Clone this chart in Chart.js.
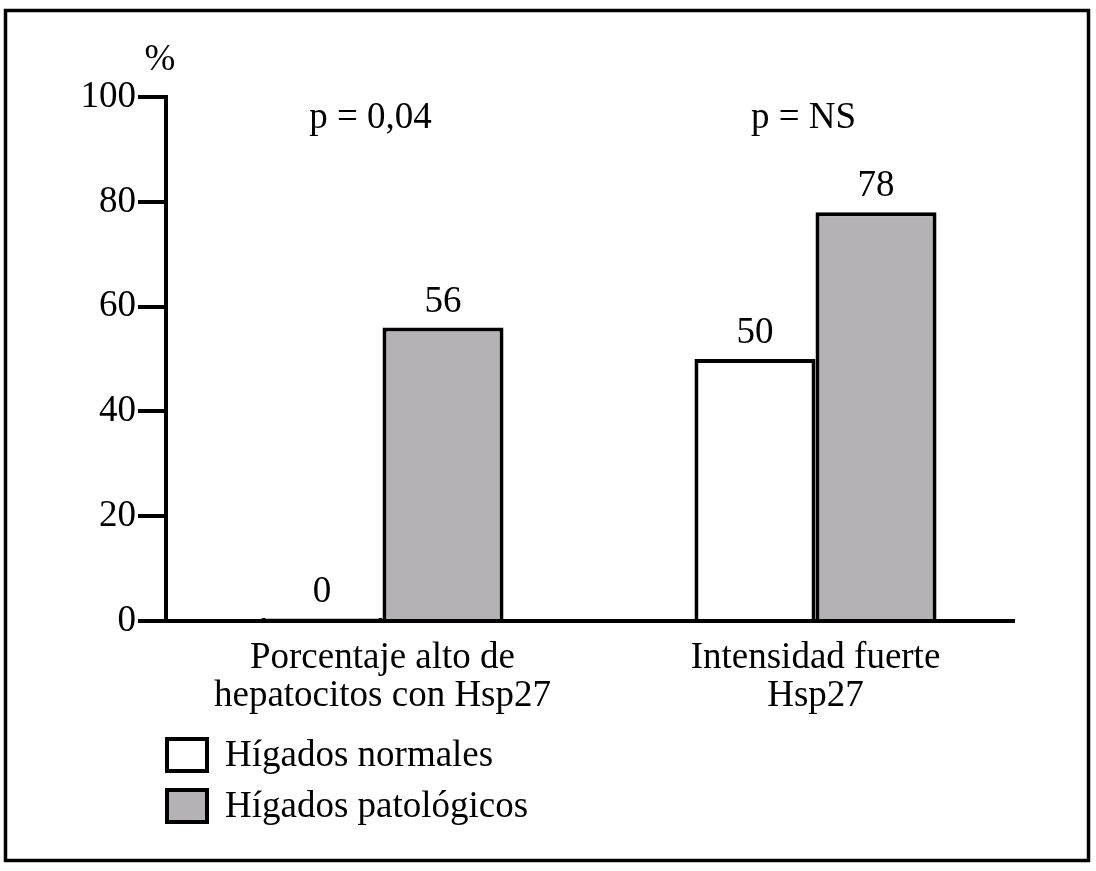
<!DOCTYPE html>
<html>
<head>
<meta charset="utf-8">
<script src="https://cdn.jsdelivr.net/npm/chart.js@4.4.1/dist/chart.umd.min.js"></script>
<style>
  html, body { margin: 0; padding: 0; background: #fff; }
  #wrap { width: 1096px; height: 871px; }
</style>
</head>
<body>
<div id="wrap"><canvas id="hspChart" width="1096" height="871"></canvas></div>
<script>
// data
const categories = [['Porcentaje alto de', 'hepatocitos con Hsp27'], ['Intensidad fuerte', 'Hsp27']];
const normales = [0, 50];
const patologicos = [56, 78];
const pLabels = ['p = 0,04', 'p = NS'];
const yTicks = [0, 20, 40, 60, 80, 100];

const FONT = "'Liberation Serif', 'Times New Roman', serif";
const SIZE = 37;
const GRAY = 'rgb(180, 178, 181)';

// frame, axis line, value labels, p values, % and legend
const extras = {
    id: 'extras',
    afterDraw(chart) {
        const ctx = chart.ctx;
        const area = chart.chartArea;
        const y = chart.scales.y;
        const x = chart.scales.x;
        ctx.save();

        // outer frame
        ctx.strokeStyle = '#000';
        ctx.lineWidth = 3.5;
        ctx.strokeRect(5.5, 10.5, 1083, 850);

        // x axis line
        ctx.lineWidth = 4;
        ctx.beginPath();
        ctx.moveTo(area.left, y.getPixelForValue(0));
        ctx.lineTo(area.right - 17, y.getPixelForValue(0));
        ctx.stroke();

        ctx.fillStyle = '#000';
        ctx.font = SIZE + 'px ' + FONT;
        ctx.textAlign = 'center';

        // value labels
        chart.data.datasets.forEach((ds, di) => {
            chart.getDatasetMeta(di).data.forEach((bar, i) => {
                ctx.textBaseline = 'bottom';
                ctx.fillText(String(ds.data[i]), bar.x, bar.y - 7);
            });
        });

        // p values
        ctx.textBaseline = 'middle';
        pLabels.forEach((t, i) => {
            ctx.fillText(t, x.getPixelForValue(i) - 12, y.getPixelForValue(96));
        });

        // % label
        ctx.fillText('%', area.left - 6, 60);

        // legend
        ctx.textAlign = 'left';
        chart.data.datasets.forEach((ds, di) => {
            const top = 739 + di * 51;
            ctx.fillStyle = ds.backgroundColor;
            ctx.fillRect(167, top, 40, 32);
            ctx.strokeStyle = '#000';
            ctx.lineWidth = 4;
            ctx.strokeRect(167, top, 40, 32);
            ctx.fillStyle = '#000';
            ctx.textBaseline = 'middle';
            ctx.fillText(ds.label, 225, top + 17);
        });

        ctx.restore();
    }
};

new Chart(document.getElementById('hspChart'), {
    type: 'bar',
    data: {
        labels: categories,
        datasets: [
            {
                label: 'Hígados normales',
                data: normales,
                backgroundColor: '#fff',
                borderColor: '#000',
                borderWidth: 4,
                borderSkipped: 'bottom',
                minBarLength: 3
            },
            {
                label: 'Hígados patológicos',
                data: patologicos,
                backgroundColor: GRAY,
                borderColor: '#000',
                borderWidth: 4,
                borderSkipped: 'bottom'
            }
        ]
    },
    options: {
        responsive: false,
        animation: false,
        devicePixelRatio: 1,
        categoryPercentage: 0.559,
        barPercentage: 1,
        layout: {
            padding: { top: 97, right: 64, bottom: 0, left: 0 }
        },
        scales: {
            x: {
                grid: { display: false },
                border: { display: false },
                ticks: {
                    color: '#000',
                    font: { family: FONT, size: SIZE, lineHeight: 1.03 },
                    padding: 10,
                    maxRotation: 0
                },
                afterFit(scale) { scale.height = 250; }
            },
            y: {
                min: 0,
                max: 100,
                afterBuildTicks(scale) { scale.ticks = yTicks.map(v => ({ value: v })); },
                grid: {
                    drawOnChartArea: false,
                    drawTicks: true,
                    tickLength: 28,
                    lineWidth: 4,
                    color: '#000'
                },
                border: { display: true, color: '#000', width: 4 },
                ticks: {
                    color: '#000',
                    font: { family: FONT, size: SIZE },
                    padding: 2
                },
                afterFit(scale) { scale.width = 166; }
            }
        },
        plugins: {
            legend: { display: false },
            tooltip: { enabled: false }
        }
    },
    plugins: [extras]
});
</script>
</body>
</html>
